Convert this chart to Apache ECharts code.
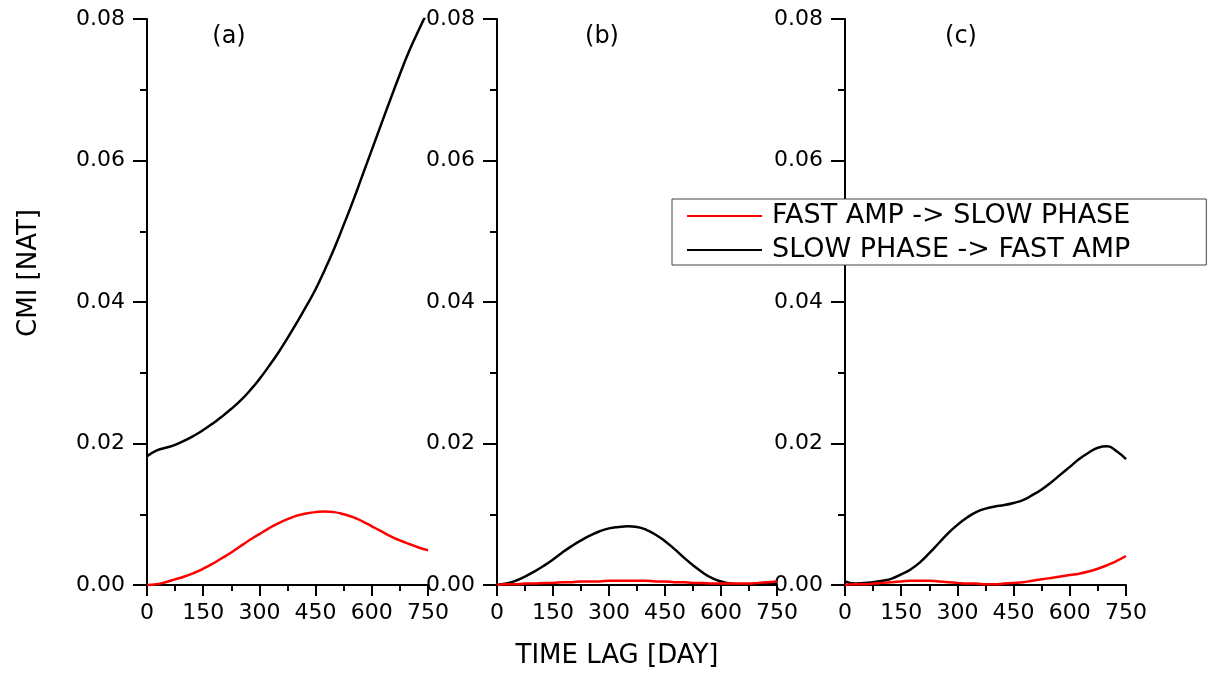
<!DOCTYPE html>
<html>
<head>
<meta charset="utf-8">
<script src="https://cdn.jsdelivr.net/npm/echarts@6/dist/echarts.min.js"></script>
<style>
html,body{margin:0;padding:0;background:#fff;}
#chart{width:1214px;height:674px;}
</style>
</head>
<body>
<div id="chart"></div>
<script>
// Time lag in days
const days = [0,25,50,75,100,125,150,175,200,225,250,275,300,325,350,375,400,425,450,475,500,525,550,575,600,625,650,675,700,725,750];

// Panel (a)
const aFastToSlow = [0.0000,0.0001,0.0004,0.0008,0.0012,0.0017,0.0023,0.0030,0.0038,0.0046,0.0055,0.0064,0.0072,0.0080,0.0087,0.0093,0.0098,0.0101,0.0103,0.0104,0.0103,0.0100,0.0096,0.0090,0.0083,0.0076,0.0069,0.0063,0.0058,0.0053,0.0049];
const aSlowToFast = [0.0182,0.0190,0.0194,0.0198,0.0204,0.0211,0.0219,0.0228,0.0238,0.0249,0.0261,0.0275,0.0291,0.0309,0.0328,0.0349,0.0371,0.0394,0.0418,0.0446,0.0476,0.0509,0.0543,0.0579,0.0615,0.0651,0.0687,0.0722,0.0755,0.0784,0.0812];

// Panel (b)
const bFastToSlow = [0.0000,0.0001,0.0001,0.0002,0.0002,0.0003,0.0003,0.0004,0.0004,0.0005,0.0005,0.0005,0.0006,0.0006,0.0006,0.0006,0.0006,0.0005,0.0005,0.0004,0.0004,0.0003,0.0003,0.0002,0.0002,0.0002,0.0002,0.0002,0.0003,0.0004,0.0005];
const bSlowToFast = [0.0000,0.0002,0.0006,0.0012,0.0019,0.0027,0.0036,0.0046,0.0055,0.0063,0.0070,0.0076,0.0080,0.0082,0.0083,0.0082,0.0078,0.0071,0.0062,0.0051,0.0039,0.0028,0.0018,0.0010,0.0005,0.0002,0.0001,0.0001,0.0001,0.0002,0.0003];

// Panel (c)
const cFastToSlow = [0.0000,0.0001,0.0001,0.0002,0.0003,0.0004,0.0005,0.0006,0.0006,0.0006,0.0005,0.0004,0.0003,0.0002,0.0002,0.0001,0.0001,0.0002,0.0003,0.0004,0.0006,0.0008,0.0010,0.0012,0.0014,0.0016,0.0019,0.0023,0.0028,0.0034,0.0041];
const cSlowToFast = [0.0005,0.0002,0.0003,0.0004,0.0006,0.0009,0.0015,0.0022,0.0032,0.0045,0.0059,0.0073,0.0085,0.0095,0.0103,0.0108,0.0111,0.0113,0.0116,0.0120,0.0127,0.0135,0.0145,0.0156,0.0167,0.0178,0.0187,0.0194,0.0196,0.0189,0.0178];

const panelLabels = ['(a)', '(b)', '(c)'];
const seriesNames = ['FAST AMP -> SLOW PHASE', 'SLOW PHASE -> FAST AMP'];
const xTitle = 'TIME LAG [DAY]';
const yTitle = 'CMI [NAT]';

const FONT = 'DejaVu Sans';
const pair = (xs, ys) => xs.map((x, i) => [x, ys[i]]);

const panels = [
  {left: 147, width: 281, red: aFastToSlow, black: aSlowToFast, labelX: 229},
  {left: 497, width: 280, red: bFastToSlow, black: bSlowToFast, labelX: 602},
  {left: 845, width: 281, red: cFastToSlow, black: cSlowToFast, labelX: 961}
];

const grid = [], xAxis = [], yAxis = [], series = [], graphic = [];
panels.forEach((p, i) => {
  grid.push({left: p.left, width: p.width, top: 19, height: 566, containLabel: false});
  xAxis.push({
    type: 'value', gridIndex: i, min: 0, max: 750, interval: 150,
    axisLine: {show: true, lineStyle: {color: '#000', width: 2}},
    axisTick: {show: true, inside: false, length: 11, lineStyle: {color: '#000', width: 2}},
    minorTick: {show: true, splitNumber: 2, length: 6, lineStyle: {color: '#000', width: 2}},
    splitLine: {show: false},
    axisLabel: {color: '#000', fontFamily: FONT, fontSize: 22, margin: 17, showMinLabel: true, showMaxLabel: true}
  });
  yAxis.push({
    type: 'value', gridIndex: i, min: 0, max: 0.08, interval: 0.02,
    axisLine: {show: true, lineStyle: {color: '#000', width: 2}},
    axisTick: {show: true, inside: false, length: 14, lineStyle: {color: '#000', width: 2}},
    minorTick: {show: true, splitNumber: 2, length: 7, lineStyle: {color: '#000', width: 2}},
    splitLine: {show: false},
    axisLabel: {color: '#000', fontFamily: FONT, fontSize: 22, margin: 22, formatter: v => v.toFixed(2), showMinLabel: true, showMaxLabel: true}
  });
  series.push({
    name: seriesNames[1], type: 'line', xAxisIndex: i, yAxisIndex: i,
    data: pair(days, p.black), showSymbol: false, symbol: 'none', smooth: 0.5, clip: true,
    lineStyle: {color: '#000', width: 2.5}, itemStyle: {color: '#000'}, z: 3
  });
  series.push({
    name: seriesNames[0], type: 'line', xAxisIndex: i, yAxisIndex: i,
    data: pair(days, p.red), showSymbol: false, symbol: 'none', smooth: 0.5, clip: true,
    lineStyle: {color: '#ff0000', width: 2.5}, itemStyle: {color: '#ff0000'}, z: 4
  });
  graphic.push({
    type: 'text', x: p.labelX, y: 37,
    style: {text: panelLabels[i], fill: '#000', font: '24px "' + FONT + '"', textAlign: 'center', textVerticalAlign: 'middle'}
  });
});

graphic.push({
  type: 'text', x: 617, y: 656,
  style: {text: xTitle, fill: '#000', font: '26px "' + FONT + '"', textAlign: 'center', textVerticalAlign: 'middle'}
});
graphic.push({
  type: 'text', x: 29, y: 273, rotation: Math.PI / 2,
  style: {text: yTitle, fill: '#000', font: '26px "' + FONT + '"', textAlign: 'center', textVerticalAlign: 'middle'}
});

const chart = echarts.init(document.getElementById('chart'), null, {renderer: 'canvas'});
chart.setOption({
  backgroundColor: '#fff',
  animation: false,
  grid: grid,
  xAxis: xAxis,
  yAxis: yAxis,
  series: series,
  graphic: graphic,
  legend: {
    data: seriesNames,
    orient: 'vertical',
    left: 672, top: 199,
    icon: 'rect',
    itemWidth: 75, itemHeight: 2, itemGap: 6,
    padding: [3, 76, 1, 15],
    borderColor: '#444', borderWidth: 1, backgroundColor: '#fff',
    textStyle: {color: '#000', fontFamily: FONT, fontSize: 27, lineHeight: 28, padding: [0, 0, 0, 5]},
    selectedMode: false,
    z: 10
  }
});
</script>
</body>
</html>
